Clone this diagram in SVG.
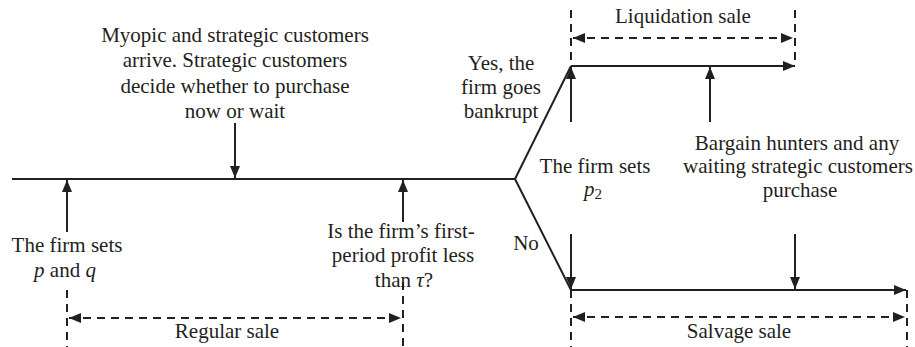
<svg xmlns="http://www.w3.org/2000/svg" width="915" height="347" viewBox="0 0 915 347">
<style>
text{font-family:"Liberation Serif","Times New Roman",serif;font-size:21px;fill:#231f20;text-anchor:middle}
.i{font-style:italic}
.s{fill:none;stroke:#231f20;stroke-width:2}
.d{fill:none;stroke:#231f20;stroke-width:2;stroke-dasharray:8 6}
</style>
<defs>
<marker id="ah" markerUnits="userSpaceOnUse" markerWidth="12" markerHeight="10" refX="12" refY="5" orient="auto-start-reverse" viewBox="0 0 12 10">
<path d="M0,0 L12,5 L0,10 z" fill="#231f20"/>
</marker>
</defs>
<rect width="915" height="347" fill="#fff"/>
<g id="connectors">
<path class="s" d="M12,179 H515 L571,66 M515,179 L571,290"/>
<path class="s" d="M571,66 H795" marker-end="url(#ah)"/>
<path class="s" d="M571,290 H906" marker-end="url(#ah)"/>
<path class="s" d="M67,232 V180" marker-end="url(#ah)"/>
<path class="s" d="M235,123 V178" marker-end="url(#ah)"/>
<path class="s" d="M403,222 V180" marker-end="url(#ah)"/>
<path class="s" d="M571,122 V67" marker-end="url(#ah)"/>
<path class="s" d="M710,122 V67" marker-end="url(#ah)"/>
<path class="s" d="M571,234 V289" marker-end="url(#ah)"/>
<path class="s" d="M795,234 V289" marker-end="url(#ah)"/>
<path class="d" d="M67,290 V347 M403,282 V347 M571,10 V66 M795,10 V66 M571,290 V347 M907,290 V347"/>
<path class="d" d="M69,318 H401" marker-start="url(#ah)" marker-end="url(#ah)"/>
<path class="d" d="M573,38 H793" marker-start="url(#ah)" marker-end="url(#ah)"/>
<path class="d" d="M573,317 H905" marker-start="url(#ah)" marker-end="url(#ah)"/>
</g>
<g id="n-arrive"><text x="235" y="42">Myopic and strategic customers</text><text x="235" y="67">arrive. Strategic customers</text><text x="235" y="93">decide whether to purchase</text><text x="235" y="118">now or wait</text></g>
<g id="n-setpq"><text x="67" y="252">The firm sets</text><text x="65" y="277"><tspan class="i">p</tspan> and <tspan class="i">q</tspan></text></g>
<g id="n-question"><text x="401" y="238">Is the firm’s first-</text><text x="403" y="262">period profit less</text><text x="404" y="287">than <tspan class="i">τ</tspan>?</text></g>
<g id="n-regular"><text x="227" y="338">Regular sale</text></g>
<g id="n-yes"><text x="501" y="70">Yes, the</text><text x="501" y="94">firm goes</text><text x="501" y="118">bankrupt</text></g>
<g id="n-no"><text x="526" y="250">No</text></g>
<g id="n-setp2"><text x="595" y="173">The firm sets</text><text x="593" y="196"><tspan class="i">p</tspan><tspan font-size="15" dy="3">2</tspan></text></g>
<g id="n-liquidation"><text x="683" y="23">Liquidation sale</text></g>
<g id="n-bargain"><text x="797" y="150">Bargain hunters and any</text><text x="798" y="173">waiting strategic customers</text><text x="800" y="197">purchase</text></g>
<g id="n-salvage"><text x="739" y="338">Salvage sale</text></g>
</svg>
